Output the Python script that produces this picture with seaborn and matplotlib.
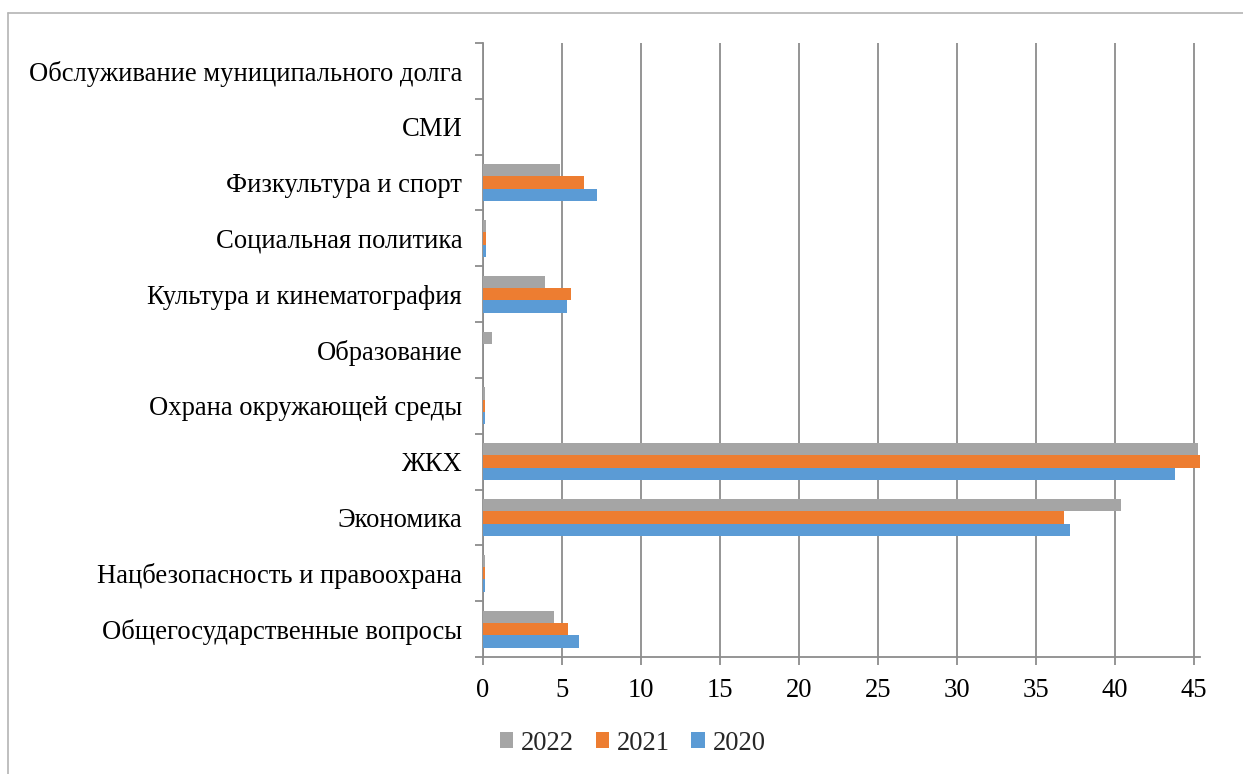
import numpy as np
import pandas as pd
import matplotlib
matplotlib.use("Agg")
import matplotlib.pyplot as plt
from matplotlib.lines import Line2D
import seaborn as sns

# categories from top to bottom
categories = ['Обслуживание муниципального долга', 'СМИ', 'Физкультура и спорт',
              'Социальная политика', 'Культура и кинематография', 'Образование',
              'Охрана окружающей среды', 'ЖКХ', 'Экономика',
              'Нацбезопасность и правоохрана', 'Общегосударственные вопросы']
years = ['2022', '2021', '2020']
v2022 = [0, 0, 4.9, 0.2, 3.9, 0.6, 0.1, 45.3, 40.4, 0.1, 4.5]
v2021 = [0, 0, 6.4, 0.2, 5.6, 0.0, 0.1, 45.4, 36.8, 0.1, 5.4]
v2020 = [0, 0, 7.2, 0.2, 5.3, 0.0, 0.1, 43.8, 37.2, 0.1, 6.1]
colors = ['#A5A5A5', '#ED7D31', '#5B9BD5']
xticks = [0, 5, 10, 15, 20, 25, 30, 35, 40, 45]

rows = []
for y, vals in zip(years, [v2022, v2021, v2020]):
    for c, v in zip(categories, vals):
        rows.append({'cat': c, 'year': y, 'val': v})
df = pd.DataFrame(rows)

sns.set_style('white')
plt.rcParams['font.family'] = ['Liberation Serif', 'DejaVu Serif']

fig = plt.figure(figsize=(12.43, 7.74), dpi=100)
ax = fig.add_axes([483/1243, 1-657/774, (1200-483)/1243, (657-43)/774])

sns.barplot(data=df, x='val', y='cat', hue='year', hue_order=years, order=categories,
            palette=colors, width=0.66, saturation=1, orient='h', ax=ax, zorder=3,
            linewidth=0, edgecolor='none')

ax.set_xlim(0, 45.4)
ax.set_ylim(len(categories) - 0.5, -0.5)
ax.set_xticks(xticks)
ax.set_xticklabels([str(t) for t in xticks])
ax.set_xlabel('')
ax.set_ylabel('')
ax.xaxis.grid(True, color='#8c8c8c', linewidth=1.3, zorder=0)
ax.yaxis.grid(False)
for s in ['top', 'right']:
    ax.spines[s].set_visible(False)
for s in ['left', 'bottom']:
    ax.spines[s].set_color('#8c8c8c')
    ax.spines[s].set_linewidth(1.3)
ax.set_yticks(np.arange(-0.5, len(categories), 1), minor=True)
ax.tick_params(axis='y', which='both', left=True)
ax.tick_params(axis='x', which='major', bottom=True)
ax.tick_params(axis='y', which='major', length=0, pad=15, labelsize=19.2, colors='black')
ax.tick_params(axis='y', which='minor', length=6, width=1.3, color='#8c8c8c', direction='out')
ax.tick_params(axis='x', which='major', length=6, width=1.3, color='#8c8c8c',
               direction='out', labelsize=19.2, pad=9, labelcolor='black')

handles, labels = ax.get_legend_handles_labels()
ax.legend_.remove()
fig.legend(handles, labels, loc='center', bbox_to_anchor=(0.509, 0.040), ncol=3,
           frameon=False, fontsize=19.2, handlelength=0.5, handleheight=0.5,
           handletextpad=0.3, columnspacing=0.8)

# chart frame
fig.add_artist(Line2D([8/1243, 8/1243], [0, 1-13/774], color='#b4b4b4', linewidth=1.2))
fig.add_artist(Line2D([8/1243, 1], [1-13/774, 1-13/774], color='#b4b4b4', linewidth=1.2))

fig.savefig('out.png', dpi=100, facecolor='white')
